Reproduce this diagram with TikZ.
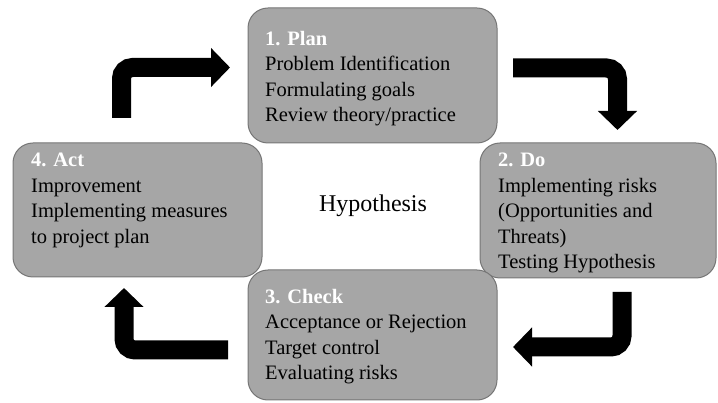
\documentclass[tikz,border=0pt]{standalone}
\usepackage{fontspec}
\setmainfont{Liberation Serif}
\usetikzlibrary{arrows.meta}
\definecolor{boxgray}{RGB}{166,166,166}
\definecolor{edgegray}{RGB}{118,118,118}
\tikzstyle{phase}=[rectangle,rounded corners=20pt,draw=edgegray,fill=boxgray,line width=1pt]
\tikzstyle{phasetext}=[anchor=north west,align=left,inner sep=0pt,font=\fontsize{20.5}{25.5}\selectfont]
\tikzstyle{head}=[text=white,font=\bfseries]
\tikzstyle{bigarrow}=[line width=19pt,rounded corners=11pt,-{Triangle[width=38pt,length=19pt]}]

\begin{document}
\begin{tikzpicture}[x=1pt,y=-1pt]
      \useasboundingbox (0,0) rectangle (718,403);
      \node [phase,minimum width=249pt,minimum height=135pt] (plan) at (372.5,75.5) {};
      \node [phase,minimum width=236pt,minimum height=135pt] (do) at (598,210.5) {};
      \node [phase,minimum width=249pt,minimum height=130pt] (check) at (372.5,335) {};
      \node [phase,minimum width=249pt,minimum height=134pt] (act) at (137.5,210) {};
      \node [phasetext] (plantext) at (265,31) {{\bfseries\color{white}1. Plan}\\Problem Identification\\Formulating goals\\Review theory/practice};
      \node [phasetext] (dotext) at (498,153) {{\bfseries\color{white}2. Do}\\Implementing risks\\(Opportunities and\\Threats)\\Testing Hypothesis};
      \node [phasetext] (checktext) at (265,289) {{\bfseries\color{white}3. Check}\\Acceptance or Rejection\\Target control\\Evaluating risks};
      \node [phasetext] (acttext) at (31,153) {{\bfseries\color{white}4. Act}\\Improvement\\Implementing measures\\to project plan};
      \node [font=\fontsize{24}{28}\selectfont,anchor=base] (hypo) at (373,212) {Hypothesis};
      \coordinate (a1) at (121.5,118);
      \coordinate (a1tip) at (230,67.5);
      \coordinate (a2) at (513,68);
      \coordinate (a2tip) at (617.5,130);
      \coordinate (a3) at (622,292);
      \coordinate (a3tip) at (513,347);
      \coordinate (a4) at (228,350);
      \coordinate (a4tip) at (124,288);
      \draw [bigarrow] (a1) |- (a1tip);
      \draw [bigarrow] (a2) -| (a2tip);
      \draw [bigarrow] (a3) |- (a3tip);
      \draw [bigarrow] (a4) -| (a4tip);
    \end{tikzpicture}
\end{document}
